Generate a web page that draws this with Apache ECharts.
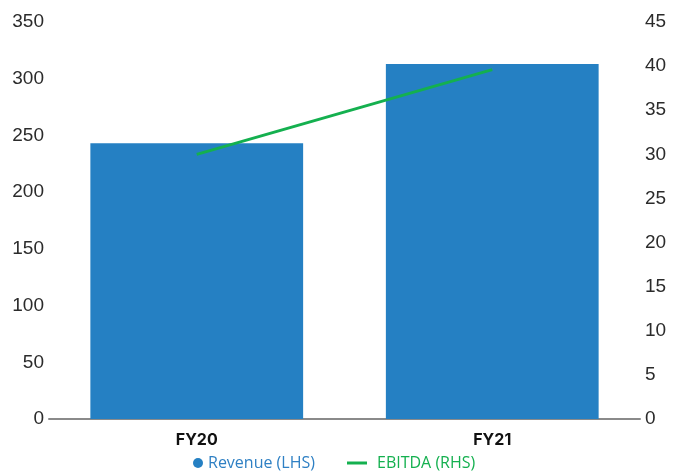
<!DOCTYPE html>
<html>
<head>
<meta charset="utf-8">
<script src="https://cdn.jsdelivr.net/npm/echarts@6/dist/echarts.min.js"></script>
<style>
  html, body { margin: 0; padding: 0; background: #fff; }
  #chart { width: 675px; height: 473px; }
</style>
</head>
<body>
<div id="chart"></div>
<script>
// data
var years = ['FY20', 'FY21'];
var revenue = [243, 313];   // LHS
var ebitda = [30, 39.6];    // RHS
var leftTicks = [0, 350, 50];
var rightTicks = [0, 45, 5];

var myChart = echarts.init(document.getElementById('chart'));

var tickFont = {
	color: '#2b2b2b',
	fontFamily: 'Liberation Sans',
	fontSize: 19
};

var option = {
	animation: false,
	grid: {
		left: 49,
		right: 35,
		top: 22,
		bottom: 54
	},
	legend: [{
		data: [{ name: 'Revenue (LHS)', icon: 'circle' }],
		left: 193,
		top: 455,
		padding: 0,
		itemWidth: 10,
		itemHeight: 10,
		textStyle: { color: '#2f80c4', fontFamily: 'Open Sans', fontSize: 16 }
	}, {
		data: [{ name: 'EBITDA (RHS)', icon: 'rect' }],
		left: 347,
		top: 455,
		padding: 0,
		itemWidth: 20,
		itemHeight: 3,
		textStyle: { color: '#14b04f', fontFamily: 'Open Sans', fontSize: 16, padding: [0, 0, 0, 5] }
	}],
	xAxis: {
		type: 'category',
		data: years,
		axisLine: { lineStyle: { color: '#8a8a8a', width: 2 } },
		axisTick: { show: false },
		axisLabel: {
			margin: 13,
			color: '#111',
			fontFamily: 'Inter',
			fontWeight: 'bold',
			fontSize: 16
		}
	},
	yAxis: [{
		type: 'value',
		min: leftTicks[0],
		max: leftTicks[1],
		interval: leftTicks[2],
		splitLine: { show: false },
		axisLine: { show: false },
		axisTick: { show: false },
		axisLabel: Object.assign({ margin: 5 }, tickFont)
	}, {
		type: 'value',
		min: rightTicks[0],
		max: rightTicks[1],
		interval: rightTicks[2],
		splitLine: { show: false },
		axisLine: { show: false },
		axisTick: { show: false },
		axisLabel: Object.assign({ margin: 5 }, tickFont)
	}],
	series: [{
		name: 'Revenue (LHS)',
		type: 'bar',
		data: revenue,
		yAxisIndex: 0,
		barCategoryGap: '28%',
		itemStyle: { color: '#2580c3' }
	}, {
		name: 'EBITDA (RHS)',
		type: 'line',
		data: ebitda,
		yAxisIndex: 1,
		symbol: 'none',
		lineStyle: { color: '#14b04f', width: 3 },
		itemStyle: { color: '#14b04f' }
	}]
};

myChart.setOption(option);
</script>
</body>
</html>
